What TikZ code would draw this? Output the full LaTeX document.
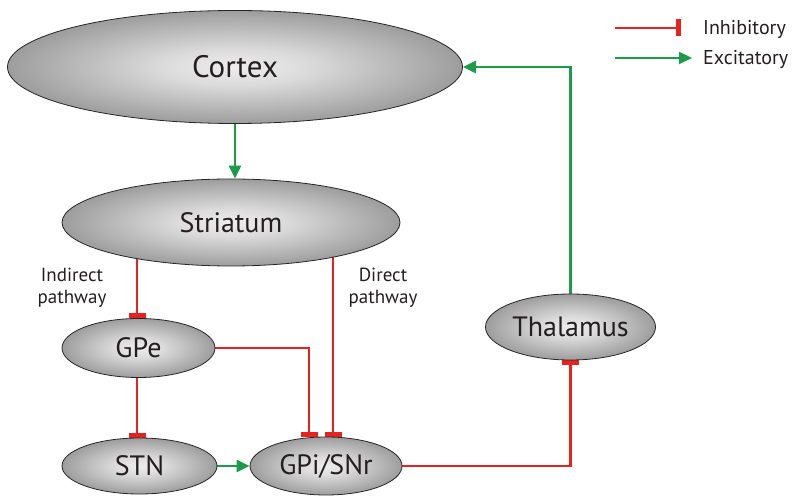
\documentclass[tikz,border=0pt]{standalone}
\usepackage{fontspec}
\setmainfont{PT Sans}
\usetikzlibrary{arrows.meta,shapes.geometric}
\definecolor{inhred}{HTML}{E52421}
\definecolor{excgreen}{HTML}{1E9B49}
\definecolor{ink}{HTML}{231F20}
% grey orb shading: light centre, dark rim
\pgfdeclareradialshading{orb}{\pgfpoint{0bp}{0bp}}{%
  color(0bp)=(white!93!black);
  color(8bp)=(white!86!black);
  color(22bp)=(white!66!black);
  color(36bp)=(white!45!black);
  color(46bp)=(white!27!black);
  color(50bp)=(white!16!black)}
\pgfdeclarelayer{bg}
\pgfsetlayers{bg,main}

\begin{document}
\begin{tikzpicture}[x=1pt,y=-1pt,
  region/.style={ellipse, draw=black!85, line width=0.8pt, shading=orb,
    inner sep=0pt, text=ink},
  big/.style={font=\fontsize{31}{31}\selectfont},
  mid/.style={font=\fontsize{28}{28}\selectfont},
  lbl/.style={text=ink, inner sep=0pt, align=center,
    font=\fontsize{19}{22}\selectfont},
  legtext/.style={text=ink, inner sep=0pt, anchor=base west,
    font=\fontsize{20}{20}\selectfont},
  inh/.style={draw=inhred, line width=2.3pt, -{Rectangle[length=5pt,width=17pt]}},
  exc/.style={draw=excgreen, line width=2.3pt, -{Triangle[length=13pt,width=12pt]}}
]
\useasboundingbox (0,0) rectangle (796,502);

% brain regions
\node[region, big, minimum width=455pt, minimum height=113pt] (cortex) at (235,67) {Cortex};
\node[region, mid, minimum width=338pt, minimum height=87pt] (striatum) at (231,222.5) {Striatum};
\node[region, mid, minimum width=153pt, minimum height=59pt] (gpe) at (138.5,348) {GPe};
\node[region, mid, minimum width=155pt, minimum height=56pt] (stn) at (139.5,466) {STN};
\node[region, mid, minimum width=152pt, minimum height=58pt] (gpi) at (326,466) {GPi/SNr};
\node[region, mid, minimum width=170pt, minimum height=66pt] (thal) at (570.5,327) {Thalamus};

% pathway labels
\node[lbl, anchor=north] (indirect) at (72,268) {Indirect\\pathway};
\node[lbl, anchor=north] (direct) at (383,268) {Direct\\pathway};

% connections
\begin{pgfonlayer}{bg}
  \draw[exc] (cortex.south) -- (cortex.south |- striatum.north);
  \draw[inh] ([xshift=-1.5pt]gpe.north |- striatum.center) -- ([xshift=-1.5pt]gpe.north);
  \draw[inh] ([xshift=7pt]gpi.north |- striatum.center) -- ([xshift=7pt]gpi.north);
  \draw[inh] (gpe.east) -| ([xshift=-17pt]gpi.north);
  \draw[inh] ([xshift=-1.5pt]gpe.south) -- ([xshift=-1.5pt]gpe.south |- stn.north);
  \draw[exc] (stn.east) -- (stn.east -| gpi.west);
  \draw[inh] (gpi.east) -| (thal.south);
  \draw[exc] (thal.north) |- (cortex.east);
\end{pgfonlayer}

% legend
\coordinate (inhS) at (615,28);
\coordinate (inhE) at (681,28);
\coordinate (excS) at (615,58);
\coordinate (excE) at (692,58);
\draw[inh] (inhS) -- (inhE);
\draw[exc] (excS) -- (excE);
\node[legtext] (inhtxt) at (703,35) {Inhibitory};
\node[legtext] (exctxt) at (703,65) {Excitatory};
\end{tikzpicture}
\end{document}
